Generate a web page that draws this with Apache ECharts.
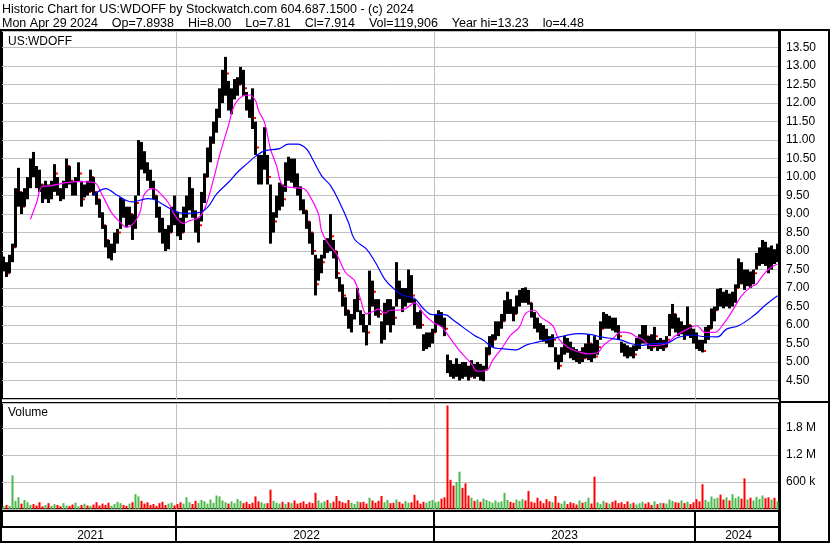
<!DOCTYPE html>
<html><head><meta charset="utf-8">
<script src="https://cdn.jsdelivr.net/npm/echarts/dist/echarts.min.js"></script>
<style>html,body{margin:0;padding:0;background:#fff}#c{width:830px;height:543px}</style>
</head><body><div id="c"></div><script>
// ---- header text ----
const headerLines = [
  'Historic Chart for US:WDOFF by Stockwatch.com 604.687.1500 - (c) 2024',
  'Mon Apr 29 2024    Op=7.8938    Hi=8.00    Lo=7.81    Cl=7.914    Vol=119,906    Year hi=13.23    lo=4.48'
];
const symbolLabel = 'US:WDOFF';
const volumeLabel = 'Volume';

// ---- price bars (one bar per 3 trading days) ----
const lows = [
7.45,7.3,7.4,7.7,8.1,9.2,9.0,9.2,9.4,9.7,
10.0,9.7,9.6,9.3,9.4,9.3,9.4,9.6,9.5,9.35,
9.4,9.7,9.8,9.5,9.5,9.9,9.2,9.45,9.5,9.6,
9.5,9.25,8.9,8.6,8.1,7.8,7.75,7.95,8.2,8.6,
8.9,8.65,8.7,8.3,8.6,9.5,10.2,10.1,9.9,9.7,
9.4,8.9,8.5,8.2,8.0,8.05,8.5,8.7,8.4,8.3,
8.5,8.9,9.1,8.9,8.5,8.23,8.8,9.3,10.0,10.4,
10.9,11.2,11.6,12.0,12.2,11.8,11.7,12.1,12.2,12.5,
12.2,11.8,11.6,11.3,10.6,9.8,9.8,10.2,9.8,8.2,
8.5,8.9,9.1,9.2,9.6,9.9,9.85,9.7,9.5,9.1,
9.0,8.6,8.2,7.9,6.8,7.2,7.4,7.8,7.95,8.0,
7.8,7.25,6.9,6.5,6.25,5.9,5.8,6.15,6.35,6.0,
5.8,5.45,6.0,6.5,6.25,6.2,5.5,5.6,6.0,5.8,
6.0,6.5,6.7,6.35,6.5,6.6,6.6,6.0,5.9,5.9,
5.3,5.35,5.4,5.5,5.8,6.0,5.95,5.7,4.7,4.6,
4.55,4.6,4.5,4.55,4.6,4.5,4.6,4.55,4.6,4.5,
4.48,4.8,5.2,5.4,5.6,5.7,5.9,6.1,6.3,6.3,
6.1,6.3,6.5,6.6,6.6,6.55,6.2,5.9,5.8,5.6,
5.55,5.5,5.4,5.4,5.0,4.8,5.0,5.2,5.25,5.1,
5.05,5.0,4.95,5.0,5.1,5.05,5.0,5.1,5.2,5.6,
5.9,5.9,5.9,5.85,5.8,5.6,5.25,5.15,5.1,5.15,
5.1,5.3,5.35,5.5,5.5,5.35,5.3,5.4,5.3,5.35,
5.3,5.4,5.7,5.9,5.8,5.7,5.75,5.6,5.7,5.65,
5.5,5.35,5.3,5.26,5.5,5.6,5.9,6.1,6.4,6.5,
6.45,6.5,6.45,6.5,6.6,7.0,7.1,6.95,7.05,7.0,
7.1,7.5,7.6,7.65,7.6,7.4,7.5,7.65,7.7
];
const highs = [
7.85,7.7,7.9,8.2,9.7,10.25,9.6,9.7,10.0,10.5,
10.68,10.3,10.2,9.8,9.9,9.8,9.9,10.35,10.0,9.7,
9.9,10.5,10.3,9.9,10.0,10.4,9.9,9.8,9.9,10.2,
10.0,9.6,9.4,9.05,8.7,8.3,8.2,8.5,8.6,9.45,
9.4,9.2,9.2,9.0,9.5,11.0,10.95,10.7,10.4,10.2,
9.9,9.5,9.2,8.9,8.6,8.7,9.2,9.5,9.05,8.9,
9.2,9.5,10.0,9.7,9.1,8.9,9.6,10.1,10.8,11.1,
11.5,11.85,12.4,12.9,13.25,12.6,12.4,12.65,12.7,12.98,
12.9,12.3,12.1,12.4,11.5,10.6,10.6,11.35,10.6,9.8,
9.05,9.5,9.85,9.8,10.4,10.55,10.5,10.5,10.1,9.75,
9.4,9.1,8.8,8.5,7.9,7.8,7.9,8.3,8.35,9.0,
8.3,8.0,7.3,7.1,6.75,6.4,6.3,6.7,7.0,6.4,
6.3,6.0,7.47,7.2,6.7,6.7,6.1,6.6,6.7,6.7,
6.5,7.7,7.2,7.0,7.0,7.5,7.35,6.7,6.35,6.4,
5.75,5.8,5.8,5.9,6.3,6.4,6.35,6.2,5.2,5.05,
4.95,5.1,4.95,5.0,5.0,4.9,5.05,4.95,5.0,4.95,
4.9,5.4,5.7,5.75,6.1,6.1,6.3,6.67,6.9,6.7,
6.5,6.8,6.95,7.0,7.02,6.95,6.6,6.35,6.2,6.05,
6.0,5.9,5.7,5.75,5.4,5.2,5.4,5.7,5.65,5.55,
5.4,5.35,5.3,5.4,5.5,5.75,5.5,5.7,5.6,6.1,
6.35,6.3,6.25,6.2,6.2,6.0,5.55,5.5,5.45,5.4,
5.45,5.65,5.75,6.0,6.0,5.7,5.75,5.95,5.6,5.65,
5.6,5.7,6.3,6.57,6.3,6.2,6.1,6.0,6.5,6.0,
5.9,5.8,5.6,5.6,5.95,6.0,6.45,6.5,6.98,7.0,
6.9,6.95,6.85,6.9,7.1,7.8,7.7,7.5,7.5,7.45,
7.5,7.95,8.1,8.3,8.25,8.1,8.15,8.05,8.2
];
const closes = [
7.6,7.4,7.8,8.1,9.5,9.6,9.2,9.5,9.9,10.3,
10.2,9.9,9.8,9.5,9.7,9.5,9.8,10.1,9.6,9.5,
9.8,10.3,9.9,9.6,9.9,10.1,9.4,9.7,9.6,10.0,
9.6,9.4,9.0,8.7,8.3,8.0,8.0,8.3,8.5,9.2,
9.0,8.8,9.0,8.7,9.3,10.7,10.4,10.3,10.0,9.8,
9.5,9.1,8.7,8.4,8.3,8.5,9.0,8.9,8.6,8.5,
9.1,9.3,9.6,9.0,8.6,8.7,9.4,10.0,10.7,11.0,
11.3,11.7,12.2,12.5,12.8,12.0,12.2,12.4,12.5,12.7,
12.4,12.0,11.7,11.6,10.8,10.1,10.4,10.5,10.0,8.6,
8.8,9.3,9.6,9.4,10.2,10.1,10.3,9.9,9.7,9.3,
9.1,8.8,8.5,8.0,7.1,7.6,7.7,8.2,8.1,8.4,
8.0,7.4,7.0,6.8,6.4,6.1,6.2,6.6,6.7,6.2,
5.9,5.8,7.0,6.9,6.5,6.3,5.7,6.4,6.5,6.4,
6.2,7.0,6.9,6.6,6.8,7.1,6.8,6.2,6.1,6.0,
5.5,5.6,5.7,5.8,6.2,6.3,6.1,5.9,4.9,4.8,
4.7,4.7,4.85,4.8,4.7,4.6,4.9,4.7,4.9,4.6,
4.8,5.2,5.5,5.6,5.9,6.0,6.1,6.5,6.6,6.4,
6.3,6.6,6.8,6.9,6.7,6.6,6.3,6.0,5.9,5.8,
5.7,5.6,5.5,5.6,5.1,4.9,5.3,5.5,5.4,5.3,
5.2,5.1,5.2,5.1,5.3,5.5,5.2,5.15,5.4,5.9,
6.2,6.0,6.1,6.0,5.9,5.7,5.4,5.3,5.2,5.3,
5.2,5.5,5.6,5.8,5.7,5.5,5.4,5.7,5.4,5.5,
5.4,5.6,6.1,6.3,6.0,5.9,5.9,5.8,6.0,5.8,
5.6,5.5,5.4,5.3,5.8,5.9,6.3,6.4,6.8,6.7,
6.6,6.8,6.6,6.7,7.0,7.6,7.3,7.1,7.3,7.2,
7.4,7.8,7.9,8.0,7.8,7.7,7.9,7.8,7.91
];
// volume per bar, thousands of shares
const volumesK = [
60,90,70,745,180,260,120,200,150,90,
110,80,150,60,90,130,70,110,90,60,
130,80,70,100,140,60,90,120,80,70,
100,150,80,120,90,140,70,110,160,130,
90,70,120,150,330,280,180,120,150,90,
110,70,130,160,90,120,140,80,110,150,
120,260,150,110,180,130,200,170,120,210,
140,300,280,190,150,120,170,130,220,180,
130,160,110,140,280,170,150,120,130,430,
180,140,120,160,110,150,130,190,120,140,
170,110,150,130,360,190,140,170,200,130,
160,290,180,150,130,200,140,110,170,150,
160,120,250,190,140,180,290,150,200,130,
140,210,160,120,180,140,150,315,190,120,
160,140,180,200,150,170,230,260,2300,650,
520,600,830,470,570,300,250,180,210,160,
230,200,170,140,190,150,170,360,200,160,
140,210,180,220,190,400,160,140,250,180,
130,220,170,150,290,140,120,180,110,150,
130,100,190,140,160,250,120,720,150,110,
180,140,120,160,190,130,150,110,170,120,
140,100,130,160,120,150,90,170,110,140,
130,120,210,180,150,140,190,130,160,110,
150,220,170,550,200,160,280,230,250,320,
210,260,190,330,240,280,230,680,210,250,
190,270,220,300,240,260,210,250,170
];
// moving averages: [bar index, value]
const maFast = [
[9,8.86],[11,9.3],[13,9.75],[16,9.77],[21,9.85],[25,9.88],[30,9.86],[33,9.5],[36,9.04],[39,8.77],
[41,8.64],[45,8.95],[47,9.54],[50,9.69],[52,9.58],[55,9.3],[57,8.98],[60,8.75],[62,8.82],[65,8.9],
[67,9.13],[70,9.94],[72,10.58],[75,11.4],[77,11.94],[80,12.2],[82,12.22],[84,12.07],[85,11.8],[87,11.48],
[89,10.76],[91,10.31],[93,9.78],[96,9.72],[100,9.69],[102,9.5],[105,9.0],[106,8.55],[108,8.23],[111,7.92],
[114,7.42],[117,7.2],[119,6.7],[121,6.3],[123,6.36],[125,6.43],[127,6.32],[129,6.4],[131,6.4],[134,6.44],
[137,6.6],[140,6.31],[143,6.08],[146,5.95],[149,5.63],[152,5.31],[156,4.95],[158,4.75],[161,4.77],[163,5.04],
[166,5.36],[169,5.72],[172,5.95],[174,6.31],[177,6.4],[179,6.22],[183,5.99],[185,5.63],[188,5.4],[192,5.27],
[195,5.22],[198,5.25],[200,5.45],[203,5.63],[206,5.81],[209,5.78],[211,5.68],[213,5.61],[216,5.44],[221,5.5],
[224,5.71],[228,5.89],[231,5.98],[234,5.8],[237,5.8],[240,6.03],[243,6.39],[246,6.79],[249,7.02],[251,7.11],
[253,7.33],[255,7.51],[258,7.65]
];
const maSlow = [
[30,9.51],[34,9.69],[38,9.5],[43,9.33],[48,9.42],[50,9.4],[54,9.22],[57,9.09],[60,9.02],[65,9.04],
[68,9.18],[71,9.54],[75,9.86],[78,10.13],[81,10.35],[84,10.56],[87,10.71],[92,10.77],[95,10.89],[98,10.89],
[101,10.76],[103,10.49],[106,10.04],[109,9.77],[112,9.32],[115,8.77],[117,8.32],[121,8.05],[124,7.69],[127,7.25],
[130,6.99],[133,6.81],[137,6.72],[140,6.44],[143,6.28],[147,6.28],[150,6.13],[153,5.95],[157,5.72],[160,5.59],
[163,5.4],[166,5.36],[171,5.33],[174,5.45],[178,5.54],[183,5.63],[187,5.71],[192,5.77],[196,5.74],[199,5.68],
[203,5.63],[206,5.59],[209,5.5],[213,5.45],[216,5.49],[221,5.51],[225,5.67],[230,5.73],[233,5.69],[238,5.68],
[241,5.89],[245,5.98],[250,6.25],[254,6.54],[258,6.79]
];
// year bands: label and index of the first bar of each year
const years = ['2021','2022','2023','2024'];
const yearStart = [0, 58, 144, 231];

// ---- build ----
const N = lows.length;
const cats = lows.map((_, i) => String(i));
const priceData = lows.map((l, i) => [i, l, highs[i], closes[i]]);
const volData = volumesK.map((v, i) => ({
  value: v * 1000,
  itemStyle: { color: (i > 0 && closes[i] < closes[i - 1]) ? '#ff0000' : '#4cb84a' }
}));
const font = "'Liberation Sans', Arial, sans-serif";
const isBoundary = (i) => yearStart.indexOf(i) > 0;
const labelIdx = years.map((y, k) => Math.floor((yearStart[k] + (k + 1 < yearStart.length ? yearStart[k + 1] : N)) / 2));
const txt = { fontFamily: font, fontSize: 12, fontWeight: 'normal', color: '#000' };
const onHalf = (v) => Math.abs(v * 2 - Math.round(v * 2)) < 1e-6;

function renderBar(params, api) {
  const i = api.value(0);
  const x = api.coord([i, 0])[0];
  const w = api.size([1, 0])[0];
  const lo = api.coord([i, api.value(1)])[1];
  const hi = api.coord([i, api.value(2)])[1];
  const cl = api.coord([i, api.value(3)])[1];
  return {
    type: 'group',
    children: [
      { type: 'rect', shape: { x: x + w / 2, y: cl - 1, width: 2, height: 2 }, style: { fill: '#ff0000' } },
      { type: 'rect', shape: { x: x - w / 2, y: hi, width: w, height: Math.max(1, lo - hi) }, style: { fill: '#000' } }
    ]
  };
}

const catAxis = (g) => ({
  gridIndex: g, type: 'category', data: cats, boundaryGap: true,
  axisLine: { show: false }, axisTick: { show: false }, axisLabel: { show: false },
  splitLine: { show: true, interval: (i) => isBoundary(i), lineStyle: { color: '#c0c0c0', width: 1 } }
});

const chart = echarts.init(document.getElementById('c'), null, { renderer: 'canvas' });
chart.setOption({
  animation: false,
  backgroundColor: '#fff',
  title: [
    { text: headerLines.join('\n'), left: 2, top: 3, padding: 0, textStyle: Object.assign({}, txt, { fontSize: 12.5, lineHeight: 14 }) },
    { text: symbolLabel, left: 8, top: 36, padding: 0, textStyle: txt },
    { text: volumeLabel, left: 8, top: 407, padding: 0, textStyle: txt }
  ],
  graphic: [
    { type: 'rect', silent: true, z: 100, shape: { x: 1, y: 30, width: 828, height: 512 }, style: { fill: null, stroke: '#000', lineWidth: 2 } },
    { type: 'line', silent: true, z: 100, shape: { x1: 780, y1: 30, x2: 780, y2: 542 }, style: { stroke: '#000', lineWidth: 2 } },
    { type: 'line', silent: true, z: 100, shape: { x1: 780, y1: 402, x2: 829, y2: 402 }, style: { stroke: '#000', lineWidth: 2 } }
  ],
  grid: [
    { left: 2, top: 31, width: 777, height: 368, show: true, borderColor: '#000', borderWidth: 2 },
    { left: 2, top: 403, width: 777, height: 106, show: true, borderColor: '#000', borderWidth: 2 },
    { left: 2, top: 511, width: 777, height: 16, show: true, borderColor: '#000', borderWidth: 2 }
  ],
  xAxis: [
    catAxis(0),
    catAxis(1),
    {
      gridIndex: 2, type: 'category', data: cats, boundaryGap: true, position: 'bottom',
      axisLine: { show: false },
      axisTick: { show: true, interval: (i) => isBoundary(i), length: 16, lineStyle: { color: '#000', width: 2 } },
      axisLabel: {
        show: true, interval: (i) => labelIdx.indexOf(i) >= 0,
        formatter: (v, i) => years[labelIdx.indexOf(i)] || '',
        margin: 3, fontFamily: font, fontSize: 12, color: '#000'
      },
      splitLine: { show: true, interval: (i) => isBoundary(i), lineStyle: { color: '#000', width: 2 } }
    }
  ],
  yAxis: [
    {
      gridIndex: 0, type: 'value', position: 'right', min: 4, max: 13.95, interval: 0.5,
      axisLine: { show: true, lineStyle: { color: '#000', width: 2 } }, axisTick: { show: false },
      splitLine: { show: true, lineStyle: { color: '#c0c0c0', width: 1 } },
      axisLabel: { formatter: (v) => (v < 4.25 || !onHalf(v)) ? '' : v.toFixed(2), margin: 7, fontFamily: font, fontSize: 12, color: '#000' }
    },
    {
      gridIndex: 1, type: 'value', position: 'right', min: 0, max: 2355000, interval: 600000,
      axisLine: { show: true, lineStyle: { color: '#000', width: 2 } }, axisTick: { show: false },
      splitLine: { show: true, lineStyle: { color: '#c0c0c0', width: 1 } },
      axisLabel: {
        formatter: (v) => (v <= 0 || v % 600000 !== 0) ? '' : (v >= 1e6 ? (v / 1e6).toFixed(1) + ' M' : (v / 1000) + ' k'),
        margin: 7, fontFamily: font, fontSize: 12, color: '#000'
      }
    },
    { gridIndex: 2, type: 'value', show: false }
  ],
  series: [
    { type: 'custom', xAxisIndex: 0, yAxisIndex: 0, data: priceData, renderItem: renderBar, encode: { x: 0, y: [1, 2] }, clip: true, z: 2 },
    { type: 'line', xAxisIndex: 0, yAxisIndex: 0, data: maFast, smooth: 0.4, showSymbol: false, lineStyle: { color: '#ff00ff', width: 1.2 }, z: 3 },
    { type: 'line', xAxisIndex: 0, yAxisIndex: 0, data: maSlow, smooth: 0.4, showSymbol: false, lineStyle: { color: '#0000ff', width: 1.2 }, z: 3 },
    { type: 'bar', xAxisIndex: 1, yAxisIndex: 1, data: volData, barWidth: 2, z: 2 }
  ]
});
</script></body></html>
